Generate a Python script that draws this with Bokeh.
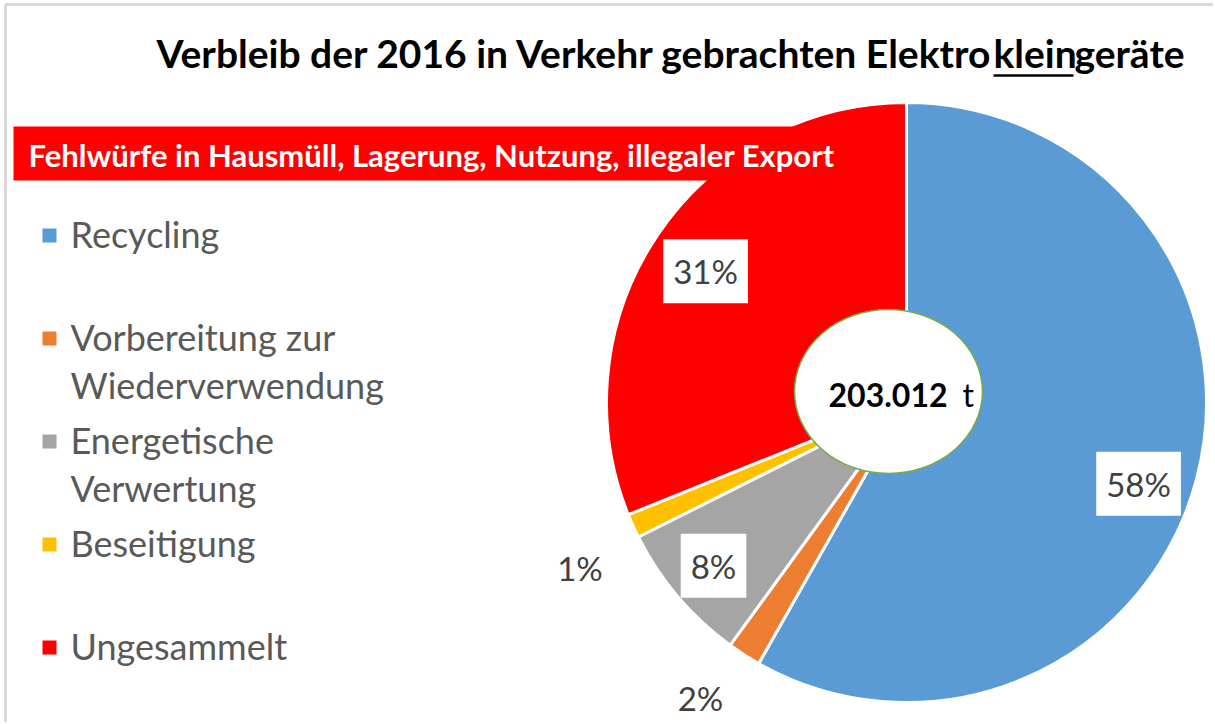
import numpy as np
from bokeh.plotting import figure
from bokeh.models import Range1d
from bokeh.core.properties import value
from bokeh.embed import file_html
from bokeh.resources import INLINE

# ---------------- data ----------------
title_parts = ["Verbleib der 2016 in Verkehr gebrachten Elektro", "klein", "geräte"]
banner_text = "Fehlwürfe in Hausmüll, Lagerung, Nutzung, illegaler Export"
categories = ["Recycling", "Vorbereitung zur\nWiederverwendung", "Energetische\nVerwertung",
              "Beseitigung", "Ungesammelt"]
shares = [58.2, 1.8, 7.6, 1.3, 31.1]
pct_labels = ["58%", "2%", "8%", "1%", "31%"]
colors = ["#5B9BD5", "#ED7D31", "#A5A5A5", "#FFC000", "#FF0000"]
total_value = "203.012"
total_unit = "t"

# ---------------- layout ----------------
W, H = 1213, 722
PAGE_H = 724
ORG = 1   # where the canvas appears in the photograph


def Y(py):
    return PAGE_H - py


p = figure(width=W, height=H, output_backend="svg", toolbar_location=None,
           x_range=Range1d(ORG, ORG + W), y_range=Range1d(Y(ORG + H), Y(ORG)),
           x_axis_location=None, y_axis_location=None, min_border=0)
p.xgrid.visible = False
p.ygrid.visible = False
p.outline_line_color = None
p.background_fill_color = "white"

FONT = value("Lato")

# frame lines (top / left)
p.line([6, ORG + W], [Y(5), Y(5)], line_color="#D9D9D9", line_width=3)
p.line([6, 6], [Y(5), Y(ORG + H)], line_color="#D9D9D9", line_width=3)

# ---------------- pie ----------------
cx, cy, R = 907, Y(403), 300
frac = np.array(shares) / np.sum(shares)
cum = np.cumsum(frac)
start = np.pi / 2 - 2 * np.pi * (cum - frac)
end = np.pi / 2 - 2 * np.pi * cum
p.wedge(x=cx, y=cy, radius=R, start_angle=start, end_angle=end, direction="clock",
        fill_color=colors, line_color="white", line_width=3)

# banner
p.quad(left=14, right=905, top=Y(127), bottom=Y(181), fill_color="#FF0000", line_color=None)
p.text(x=[29], y=[Y(155)], text=[banner_text], text_font=FONT, text_font_style="bold",
       text_font_size="31px", text_color="white", text_baseline="middle", text_align="left")

# centre ellipse
p.ellipse(x=[889], y=[Y(392)], width=188, height=164, fill_color="white",
          line_color="#70AD47", line_width=1.5)
p.text(x=[948], y=[Y(395)], text=[total_value], text_font=FONT, text_font_style="bold",
       text_font_size="32px", text_color="black", text_baseline="middle", text_align="right")
p.text(x=[963], y=[Y(395)], text=[total_unit], text_font=FONT,
       text_font_size="32px", text_color="black", text_baseline="middle", text_align="left")

# percentage labels
mid = np.pi / 2 - 2 * np.pi * (cum - frac / 2)
rfac = [0.80, 1.14, 0.80, 1.22, 0.80]
nudge = [(0, 20), (-21, 8), (-10, 8), (7, 15), (-2, 3)]   # px (right, down)
boxed = [True, False, True, False, True]
for i in range(len(shares)):
    lx = cx + rfac[i] * R * np.cos(mid[i]) + nudge[i][0]
    ly = cy + rfac[i] * R * np.sin(mid[i]) - nudge[i][1]
    kw = dict(background_fill_color="white", padding=(10, 12)) if boxed[i] else {}
    p.text(x=[lx], y=[ly], text=[pct_labels[i]], text_font=FONT, text_font_size="33px",
           text_color="#404040", text_baseline="middle", text_align="center", **kw)

# legend
leg_y0, leg_step = 236, 103
for i, cat in enumerate(categories):
    py = leg_y0 + i * leg_step
    p.scatter(x=[50], y=[Y(py)], marker="square", size=14, fill_color=colors[i], line_color=None)
    p.text(x=[71], y=[Y(py - 24)], text=[cat], text_font=FONT, text_font_size="36px",
           text_color="#595959", text_baseline="top", text_align="left",
           text_line_height=1.1)

# title
TS = "39px"
p.text(x=[994], y=[Y(53)], text=[title_parts[0]], text_font=FONT, text_font_style="bold",
       text_font_size=TS, text_color="black", text_baseline="middle", text_align="right")
p.text(x=[994], y=[Y(53)], text=[title_parts[1]], text_font=FONT, text_font_style="bold",
       text_font_size=TS, text_color="black", text_baseline="middle", text_align="left")
p.text(x=[1075], y=[Y(53)], text=[title_parts[2]], text_font=FONT, text_font_style="bold",
       text_font_size=TS, text_color="black", text_baseline="middle", text_align="left")
p.line([994, 1074], [Y(76), Y(76)], line_color="black", line_width=2.5)

open("out.html", "w").write(file_html(p, INLINE))
